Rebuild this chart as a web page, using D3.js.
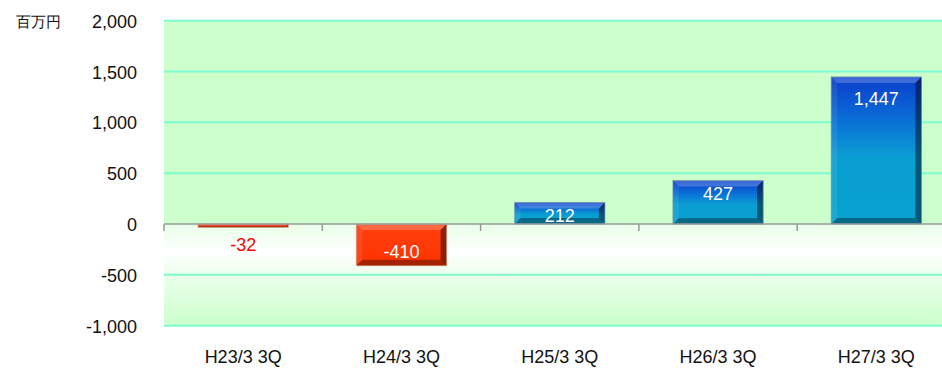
<!DOCTYPE html>
<html>
<head>
<meta charset="utf-8">
<script src="https://cdn.jsdelivr.net/npm/d3@7/dist/d3.min.js"></script>
<style>
  html, body { margin: 0; padding: 0; background: #ffffff; }
  svg { display: block; }
  text { font-family: Arial, "Liberation Sans", sans-serif; }
</style>
</head>
<body>
<div id="chart"></div>
<script>
// Quarterly results (百万円)
const categories = ["H23/3 3Q", "H24/3 3Q", "H25/3 3Q", "H26/3 3Q", "H27/3 3Q"];
const values = [-32, -410, 212, 427, 1447];
const tickValues = [-1000, -500, 0, 500, 1000, 1500, 2000];
const unitLabel = "百万円";

const W = 942, H = 368;
const plot = { left: 164, right: 955.5, top: 20.7, bottom: 325.7 };

// thousands separator with a plain hyphen for negatives
const fmt = v => d3.format(",")(v).replace("\u2212", "-");

const svg = d3.select("#chart").append("svg")
  .attr("width", W).attr("height", H);

const y = d3.scaleLinear().domain([-1000, 2000]).range([plot.bottom, plot.top]);
const x = d3.scaleBand().domain(categories)
  .range([plot.left, plot.right])
  .paddingInner(0.43).paddingOuter(0.215);

const defs = svg.append("defs");

// plot background: green, lightening to white just below zero
const span = plot.bottom - plot.top;
const frac = v => ((y(v) - plot.top) / span * 100) + "%";
const bg = defs.append("linearGradient").attr("id", "bgGrad")
  .attr("x1", 0).attr("y1", 0).attr("x2", 0).attr("y2", 1);
[[2000, "#ccffcc"], [0, "#ccffcc"], [-1, "#e8ffe8"], [-280, "#ffffff"],
 [-500, "#ecffec"], [-1000, "#ccffcc"]].forEach(([v, c]) =>
  bg.append("stop").attr("offset", frac(v)).attr("stop-color", c));

svg.append("rect")
  .attr("x", plot.left).attr("y", plot.top)
  .attr("width", plot.right - plot.left).attr("height", span)
  .attr("fill", "url(#bgGrad)");

// bar fills
const blue = defs.append("linearGradient").attr("id", "blueGrad")
  .attr("x1", 0).attr("y1", 0).attr("x2", 0).attr("y2", 1);
[["0%", "#0a3ccc"], ["30%", "#0a70d6"], ["55%", "#0a9ed2"], ["100%", "#08a2d0"]]
  .forEach(([o, c]) => blue.append("stop").attr("offset", o).attr("stop-color", c));
const red = defs.append("linearGradient").attr("id", "redGrad")
  .attr("x1", 0).attr("y1", 0).attr("x2", 0).attr("y2", 1);
[["0%", "#ff4010"], ["100%", "#ff3300"]]
  .forEach(([o, c]) => red.append("stop").attr("offset", o).attr("stop-color", c));

// horizontal gridlines (except zero)
svg.append("g")
  .selectAll("line")
  .data(tickValues.filter(d => d !== 0))
  .join("line")
  .attr("x1", plot.left).attr("x2", plot.right)
  .attr("y1", d => y(d)).attr("y2", d => y(d))
  .attr("stroke", "#7dfcd0").attr("stroke-width", 2);

// y-axis labels
const yAxis = svg.append("g")
  .attr("transform", "translate(137,0)")
  .call(d3.axisLeft(y).tickValues(tickValues).tickSize(0).tickPadding(0)
    .tickFormat(fmt));
yAxis.select(".domain").remove();
yAxis.selectAll("text")
  .attr("font-size", 18).attr("fill", "#111")
  .attr("font-family", "Arial, 'Liberation Sans', sans-serif")
  .attr("dy", "0.36em");

svg.append("text")
  .attr("x", 16).attr("y", 27)
  .attr("font-family", "'Noto Sans CJK JP', sans-serif")
  .attr("font-size", 14.5).attr("font-weight", 500).attr("fill", "#111")
  .text(unitLabel);

// bars with bevelled edges
const bars = svg.append("g");
values.forEach((v, i) => {
  const x0 = x(categories[i]), x1 = x0 + x.bandwidth();
  const yTop = y(Math.max(0, v)), yBot = y(Math.min(0, v));
  const h = yBot - yTop;
  const b = Math.min(6, h / 2);
  const g = bars.append("g");
  g.append("rect")
    .attr("x", x0).attr("y", yTop).attr("width", x1 - x0).attr("height", h)
    .attr("fill", v >= 0 ? "url(#blueGrad)" : "url(#redGrad)");
  const poly = (pts, fill, op) => g.append("polygon")
    .attr("points", pts.map(p => p.join(",")).join(" "))
    .attr("fill", fill).attr("opacity", op);
  poly([[x0, yTop], [x1, yTop], [x1 - b, yTop + b], [x0 + b, yTop + b]], "#ffffff", v >= 0 ? 0.22 : 0.22);
  poly([[x0, yTop], [x0 + b, yTop + b], [x0 + b, yBot - b], [x0, yBot]], "#ffffff", 0.08);
  poly([[x1, yTop], [x1, yBot], [x1 - b, yBot - b], [x1 - b, yTop + b]], "#000000", 0.45);
  poly([[x0, yBot], [x1, yBot], [x1 - b, yBot - b], [x0 + b, yBot - b]], "#000000", 0.35);
  g.append("rect")
    .attr("x", x0).attr("y", yTop).attr("width", x1 - x0).attr("height", h)
    .attr("fill", "none").attr("stroke", v >= 0 ? "#6a8a9a" : "#c89080")
    .attr("stroke-opacity", 0.6).attr("stroke-width", 1);
});

// zero axis with category ticks
const zeroY = y(0);
svg.append("line")
  .attr("x1", plot.left).attr("x2", plot.right)
  .attr("y1", zeroY).attr("y2", zeroY)
  .attr("stroke", "#9a9a9a").attr("stroke-width", 1.5);
svg.append("g").selectAll("line")
  .data(d3.range(categories.length))
  .join("line")
  .attr("x1", i => x(categories[i]) - x.step() * x.paddingOuter())
  .attr("x2", i => x(categories[i]) - x.step() * x.paddingOuter())
  .attr("y1", zeroY).attr("y2", zeroY + 7)
  .attr("stroke", "#9a9a9a").attr("stroke-width", 1.5);

// category labels
svg.append("g").selectAll("text")
  .data(categories)
  .join("text")
  .attr("x", d => x(d) + x.bandwidth() / 2)
  .attr("y", 363)
  .attr("text-anchor", "middle")
  .attr("font-size", 18).attr("fill", "#111")
  .text(d => d);

// value labels
svg.append("g").selectAll("text")
  .data(values)
  .join("text")
  .attr("x", (d, i) => x(categories[i]) + x.bandwidth() / 2)
  .attr("y", d => {
    const yTop = y(Math.max(0, d)), yBot = y(Math.min(0, d));
    const h = yBot - yTop;
    if (h < 20) return yBot + 24;              // too thin: label sits below
    if (d >= 0) return yTop + (h > 100 ? 28.5 : 19.7);
    return yBot - 8;
  })
  .attr("text-anchor", "middle")
  .attr("font-size", 18)
  .attr("fill", d => (y(Math.min(0, d)) - y(Math.max(0, d)) < 20) ? "#ff0000" : "#ffffff")
  .text(d => fmt(d));
</script>
</body>
</html>
